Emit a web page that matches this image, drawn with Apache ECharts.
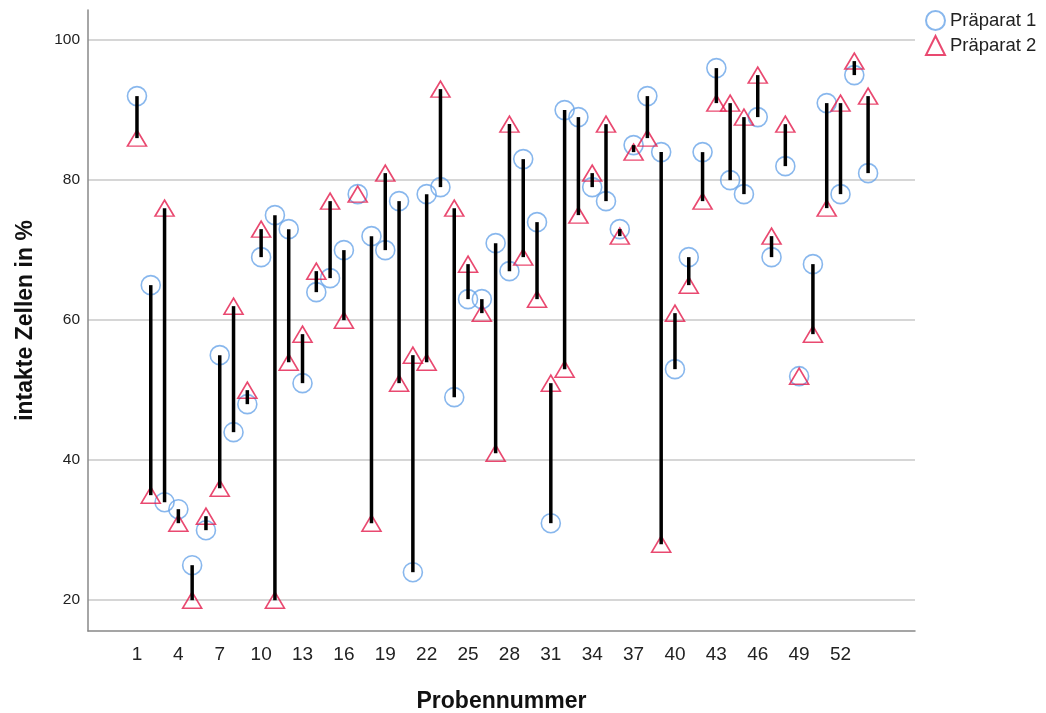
<!DOCTYPE html>
<html>
<head>
<meta charset="utf-8">
<script src="https://cdn.jsdelivr.net/npm/echarts@6/dist/echarts.min.js"></script>
<style>
  html, body { margin: 0; padding: 0; background: #fff; }
  #chart { width: 1046px; height: 713px; }
</style>
</head>
<body>
<div id="chart"></div>
<script>
// Probennummer 1..54
let samples = []
for (let i = 1; i <= 54; i++) samples.push(i)

let praeparat1 = [92, 65, 34, 33, 25, 30, 55, 44, 48, 69,
                  75, 73, 51, 64, 66, 70, 78, 72, 70, 77,
                  24, 78, 79, 49, 63, 63, 71, 67, 83, 74,
                  31, 90, 89, 79, 77, 73, 85, 92, 84, 53,
                  69, 84, 96, 80, 78, 89, 69, 82, 52, 68,
                  91, 78, 95, 81]
let praeparat2 = [86, 35, 76, 31, 20, 32, 36, 62, 50, 73,
                  20, 54, 58, 67, 77, 60, 78, 31, 81, 51,
                  55, 54, 93, 76, 68, 61, 41, 88, 69, 63,
                  51, 53, 75, 81, 88, 72, 84, 86, 28, 61,
                  65, 77, 91, 91, 89, 95, 72, 88, 52, 58,
                  76, 91, 97, 92]

let xTicks = [1, 4, 7, 10, 13, 16, 19, 22, 25, 28, 31, 34, 37, 40, 43, 46, 49, 52]
let yTicks = [20, 40, 60, 80, 100]

function main() {
  var chart = echarts.init(document.getElementById('chart'), null, { renderer: 'canvas' })

  let p1 = samples.map((s, i) => [s, praeparat1[i]])
  let p2 = samples.map((s, i) => [s, praeparat2[i]])
  let pairs = samples.map((s, i) => [s, praeparat1[i], praeparat2[i]])

  let font = 'Arial, "Liberation Sans", sans-serif'

  let option = {
    animation: false,
    grid: { left: 88, right: 131, top: 10, bottom: 82, outerBoundsMode: 'none', containLabel: false },
    legend: {
      data: ['Präparat 1', 'Präparat 2'],
      orient: 'vertical',
      left: 920,
      top: 5,
      itemWidth: 19,
      itemHeight: 19,
      itemGap: 4,
      textStyle: { fontFamily: font, fontSize: 18.5, color: '#222' }
    },
    xAxis: {
      type: 'value',
      min: -2.55,
      max: 57.4,
      name: 'Probennummer',
      nameLocation: 'middle',
      nameGap: 59,
      nameTextStyle: { fontFamily: font, fontSize: 23, fontWeight: 'bold', color: '#111' },
      axisLine: { show: true, onZero: false, lineStyle: { color: '#888', width: 1.5 } },
      axisTick: { show: false, customValues: xTicks },
      axisLabel: { customValues: xTicks, fontFamily: font, fontSize: 19, color: '#222', margin: 14 },
      splitLine: { show: false }
    },
    yAxis: {
      type: 'value',
      min: 15.6,
      max: 104.3,
      name: 'intakte Zellen in %',
      nameLocation: 'middle',
      nameGap: 51,
      nameTextStyle: { fontFamily: font, fontSize: 23, fontWeight: 'bold', color: '#111' },
      axisLine: { show: true, onZero: false, lineStyle: { color: '#888', width: 1.5 } },
      axisTick: { show: false, customValues: yTicks },
      axisLabel: { customValues: yTicks, fontFamily: font, fontSize: 15.5, color: '#222', margin: 8 },
      splitLine: { show: true, lineStyle: { color: '#c8c8c8', width: 1.5 } }
    },
    series: [
      {
        name: 'Präparat 1',
        type: 'scatter',
        data: p1,
        symbol: 'circle',
        symbolSize: 19,
        itemStyle: { color: 'rgba(255,255,255,0)', borderColor: '#6aa5e8', borderWidth: 1.6 },
        z: 2
      },
      {
        name: 'Präparat 2',
        type: 'scatter',
        data: p2,
        symbol: 'triangle',
        symbolSize: [19, 16],
        itemStyle: { color: 'rgba(255,255,255,0)', borderColor: '#e31b4c', borderWidth: 1.6 },
        z: 3
      },
      {
        name: 'Verbindung',
        type: 'custom',
        data: pairs,
        z: 4,
        renderItem: (params, api) => {
          let a = api.coord([api.value(0), api.value(1)])
          let b = api.coord([api.value(0), api.value(2)])
          return {
            type: 'line',
            shape: { x1: a[0], y1: a[1], x2: b[0], y2: b[1] },
            style: { stroke: '#000', lineWidth: 3.5 }
          }
        }
      }
    ]
  }
  chart.setOption(option)
}

main()
</script>
</body>
</html>
